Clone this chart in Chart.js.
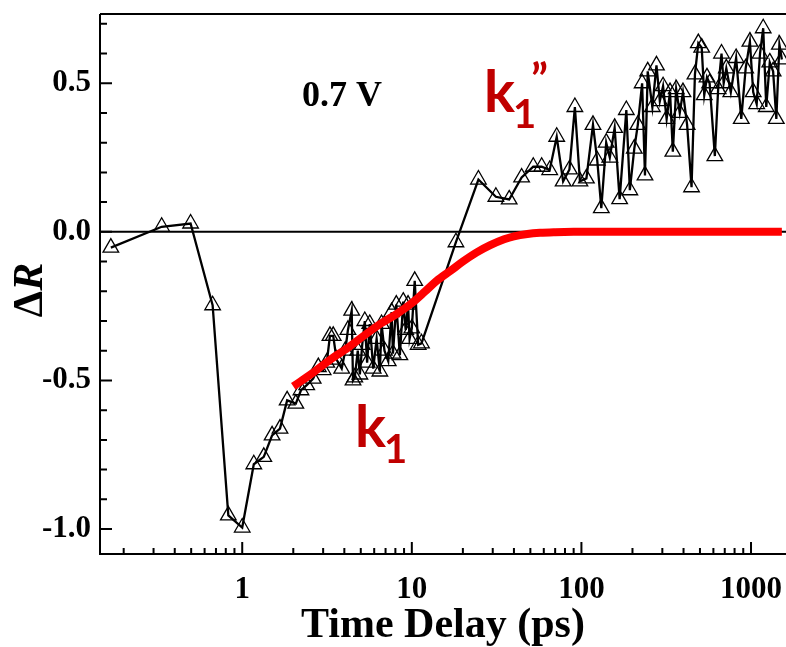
<!DOCTYPE html>
<html>
<head>
<meta charset="utf-8">
<script src="https://cdn.jsdelivr.net/npm/chart.js@4.4.1/dist/chart.umd.min.js"></script>
<style>
	html, body { margin: 0; padding: 0; background: #fff; }
	#chart { display: block; }
</style>
</head>
<body>
<canvas id="chart" width="786" height="647"></canvas>
<script>
// measured transient (time delay in ps, dR)
const delayPs = [
	0.168, 0.335, 0.496, 0.669, 0.828, 1.00, 1.17, 1.34, 1.50, 1.67, 1.84, 2.07, 2.22, 2.40, 2.62, 2.81,
	3.0, 3.15, 3.29, 3.44, 3.6, 3.86, 4.05, 4.2, 4.42, 4.5, 4.61, 4.8, 4.94, 5.1, 5.28, 5.45, 5.65, 5.92,
	6.2, 6.48, 6.63, 6.9, 7.26, 7.6, 7.74, 8.1, 8.5, 8.9, 9.2, 9.5, 9.7, 10.0, 10.4, 10.9, 11.4,
	18.2, 24.7, 31.3, 37.5, 44.4, 52, 58.3, 65, 71.5, 78, 85, 91.5, 98, 107, 117, 124, 131, 140, 147,
	157, 168, 184, 193, 205, 215, 228, 237, 246, 262, 277, 290, 303, 318, 333, 346, 362, 380, 397, 420,
	446, 467, 489, 512, 530, 550, 570, 612, 640, 670, 690, 715, 760, 817, 876, 930, 985, 1030, 1080,
	1130, 1180, 1230, 1290, 1350, 1410, 1470, 1520
];
const deltaR = [
	-0.053, 0.017, 0.028, -0.247, -0.954, -0.995, -0.782, -0.757, -0.685, -0.662, -0.567, -0.578, -0.533, -0.516, -0.494, -0.455,
	-0.465, -0.44, -0.35, -0.35, -0.43, -0.46, -0.40, -0.33, -0.265, -0.50, -0.49, -0.40, -0.48, -0.38, -0.30, -0.44, -0.31, -0.46,
	-0.36, -0.47, -0.31, -0.40, -0.435, -0.27, -0.41, -0.245, -0.415, -0.235, -0.33, -0.245, -0.36, -0.325, -0.165, -0.38, -0.375,
	-0.035, 0.176, 0.118, 0.109, 0.183, 0.219, 0.219, 0.208, 0.32, 0.17, 0.21, 0.42, 0.17, 0.18, 0.36, 0.24, 0.08, 0.30, 0.25,
	0.35, 0.11, 0.41, 0.14, 0.28, 0.36, 0.50, 0.19, 0.54, 0.42, 0.56, 0.44, 0.49, 0.38, 0.47, 0.27, 0.48, 0.40, 0.47, 0.36,
	0.15, 0.53, 0.635, 0.62, 0.46, 0.52, 0.50, 0.255, 0.48, 0.60, 0.50, 0.55, 0.47, 0.585, 0.38, 0.55, 0.64, 0.47, 0.43,
	0.60, 0.685, 0.42, 0.57, 0.54, 0.38, 0.63, 0.58
];

// k1 fit curve
const fitDelayPs = [2.0, 2.6, 3.3, 4.2, 5.2, 6.5, 8.2, 10, 12, 14, 17, 20, 24, 29, 35, 40, 48, 57, 70, 90, 150, 400, 1000, 1520];
const fitDeltaR = [-0.52, -0.475, -0.43, -0.39, -0.35, -0.31, -0.275, -0.24, -0.20, -0.165, -0.13, -0.10, -0.07, -0.045, -0.025, -0.015, -0.007, -0.003, -0.001, 0, 0, 0, 0, 0];

// axis ticks
const xMajorTicks = [1, 10, 100, 1000];
const xMinorTicks = [0.2, 0.3, 0.4, 0.5, 0.6, 0.7, 0.8, 0.9, 2, 3, 4, 5, 6, 7, 8, 9,
	20, 30, 40, 50, 60, 70, 80, 90, 200, 300, 400, 500, 600, 700, 800, 900];
const yMajorTicks = [-1.0, -0.5, 0.0, 0.5];
const yMinorTicks = [-0.9, -0.8, -0.7, -0.6, -0.4, -0.3, -0.2, -0.1, 0.1, 0.2, 0.3, 0.4, 0.6, 0.7];

const serif = "'Liberation Serif', 'Times New Roman', serif";
const redText = '#c00000';

const framePlugin = {
	id: 'frame',
	beforeDatasetsDraw(chart) {
		const { ctx, chartArea, scales } = chart;
		const y0 = scales.y.getPixelForValue(0);
		ctx.save();
		ctx.strokeStyle = '#000';
		ctx.lineWidth = 2;
		ctx.beginPath();
		ctx.moveTo(chartArea.left, y0);
		ctx.lineTo(chartArea.right, y0);
		ctx.stroke();
		ctx.restore();
	},
	afterDraw(chart) {
		const { ctx, chartArea, scales } = chart;
		const { left, right, top, bottom } = chartArea;
		ctx.save();
		ctx.strokeStyle = '#000';
		ctx.lineWidth = 2;
		ctx.beginPath();
		ctx.moveTo(left, top);
		ctx.lineTo(right, top);
		ctx.moveTo(left, top);
		ctx.lineTo(left, bottom);
		ctx.lineTo(right, bottom);

		// inward tick marks
		xMajorTicks.forEach(v => {
			const px = scales.x.getPixelForValue(v);
			ctx.moveTo(px, bottom);
			ctx.lineTo(px, bottom - 12);
		});
		xMinorTicks.forEach(v => {
			const px = scales.x.getPixelForValue(v);
			ctx.moveTo(px, bottom);
			ctx.lineTo(px, bottom - 6);
		});
		yMajorTicks.forEach(v => {
			const py = scales.y.getPixelForValue(v);
			ctx.moveTo(left, py);
			ctx.lineTo(left + 12, py);
		});
		yMinorTicks.forEach(v => {
			const py = scales.y.getPixelForValue(v);
			ctx.moveTo(left, py);
			ctx.lineTo(left + 7, py);
		});
		ctx.stroke();

		// y axis title: ΔR with italic R
		ctx.translate(31, 290);
		ctx.rotate(-Math.PI / 2);
		ctx.fillStyle = '#000';
		ctx.textBaseline = 'middle';
		const f1 = 'bold 42px ' + serif;
		const f2 = 'italic bold 42px ' + serif;
		ctx.font = f1;
		const w1 = ctx.measureText('Δ').width;
		ctx.font = f2;
		const w2 = ctx.measureText('R').width;
		let x = -(w1 + w2) / 2;
		ctx.font = f1;
		ctx.fillText('Δ', x, 0);
		ctx.font = f2;
		ctx.fillText('R', x + w1, 0);
		ctx.restore();

		// annotations
		ctx.save();
		ctx.textBaseline = 'alphabetic';
		ctx.fillStyle = '#000';
		ctx.font = 'bold 36px ' + serif;
		ctx.fillText('0.7 V', 302, 106);

		ctx.fillStyle = redText;
		ctx.font = "bold 58px Lato, 'Open Sans', sans-serif";
		ctx.fillText('k', 484, 112);
		ctx.fillText('k', 355, 447);
		ctx.font = "bold 40px Lato, 'Open Sans', sans-serif";
		ctx.fillText('1', 513, 128);
		ctx.fillText('1', 384, 463);
		ctx.font = "bold 44px Lato, 'Open Sans', sans-serif";
		ctx.fillText('”', 531, 95);
		ctx.restore();
	}
};

const chart = new Chart(document.getElementById('chart'), {
	type: 'line',
	data: {
		datasets: [{
			label: 'k1 fit',
			data: fitDelayPs.map((t, i) => ({ x: t, y: fitDeltaR[i] })),
			borderColor: '#ff0000',
			borderWidth: 8,
			pointRadius: 0,
			cubicInterpolationMode: 'monotone',
			order: 0
		}, {
			label: '0.7 V',
			data: delayPs.map((t, i) => ({ x: t, y: deltaR[i] })),
			borderColor: '#000',
			borderWidth: 2.3,
			pointStyle: 'triangle',
			pointRadius: 9,
			pointBorderWidth: 1.3,
			pointBorderColor: '#000',
			pointBackgroundColor: 'rgba(0, 0, 0, 0)',
			tension: 0,
			order: 1
		}]
	},
	options: {
		responsive: false,
		animation: false,
		layout: { autoPadding: false, padding: { top: 14, right: 0, left: 0, bottom: 0 } },
		plugins: {
			legend: { display: false },
			tooltip: { enabled: false }
		},
		scales: {
			x: {
				type: 'logarithmic',
				min: 0.145,
				max: 1608,
				afterFit(scale) {
					scale.height = 93;
					scale.paddingLeft = 0;
					scale.paddingRight = 0;
				},
				afterBuildTicks(scale) { scale.ticks = xMajorTicks.map(v => ({ value: v })); },
				// label offset comes from tickLength; the marks themselves are drawn by the plugin
				grid: { display: false, drawTicks: true, tickLength: 17 },
				border: { display: false },
				ticks: {
					autoSkip: false,
					maxRotation: 0,
					padding: 0,
					color: '#000',
					font: { family: serif, size: 31, weight: 'bold' },
					callback: v => String(v)
				},
				title: {
					display: true,
					text: 'Time Delay (ps)',
					color: '#000',
					padding: { top: 0, bottom: 0 },
					font: { family: serif, size: 42, weight: 'bold', lineHeight: 1 }
				}
			},
			y: {
				min: -1.084,
				max: 0.733,
				afterFit(scale) {
					scale.width = 100;
					scale.paddingTop = 0;
					scale.paddingBottom = 0;
				},
				afterBuildTicks(scale) { scale.ticks = yMajorTicks.map(v => ({ value: v })); },
				grid: { display: false, drawTicks: false },
				border: { display: false },
				ticks: {
					padding: 9,
					color: '#000',
					font: { family: serif, size: 31, weight: 'bold' },
					callback: v => v.toFixed(1)
				}
			}
		}
	},
	plugins: [framePlugin]
});
</script>
</body>
</html>
